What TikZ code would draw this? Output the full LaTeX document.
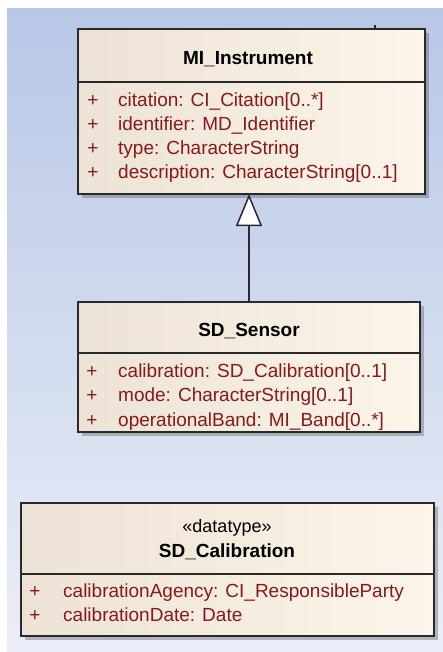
\documentclass[tikz,border=0pt]{standalone}
\usepackage{fontspec}
\setmainfont{Liberation Sans}
\usetikzlibrary{arrows.meta,shadows}
\definecolor{bgtop}{RGB}{184,199,230}
\definecolor{bgbot}{RGB}{234,238,247}
\definecolor{boxl}{RGB}{236,227,214}
\definecolor{boxr}{RGB}{253,245,233}
\definecolor{attr}{RGB}{135,25,25}
\definecolor{edge}{RGB}{40,40,45}
\tikzset{
  classbox/.style={draw=edge, line width=2pt, left color=boxl, right color=boxr,
    anchor=north west, inner sep=0pt, outer sep=0pt,
    drop shadow={shadow xshift=4pt, shadow yshift=-4pt, opacity=0.35, fill=black!70}},
  sepline/.style={draw=edge, line width=2pt},
  title/.style={anchor=base, inner sep=0pt, font=\fontsize{19}{23}\selectfont\bfseries},
  stereo/.style={anchor=base, inner sep=0pt, font=\fontsize{18}{22}\selectfont},
  attrtext/.style={anchor=base west, inner sep=0pt, text=attr, font=\fontsize{19}{23}\selectfont},
  plus/.style={anchor=base, inner sep=0pt, text=attr, font=\fontsize{19}{23}\selectfont},
  gen/.style={draw=edge, line width=1.5pt, -{Triangle[length=32pt,width=26pt,fill=white]}},
}
\begin{document}
\begin{tikzpicture}[x=1pt,y=-1pt]
\fill[white] (0,0) rectangle (443,652);
\useasboundingbox (0,0) rectangle (443,652);
\fill[top color=bgtop, bottom color=bgbot] (7,9) rectangle (443,652);

% MI_Instrument
\node[classbox, minimum width=347pt, minimum height=165pt] (mi) at (78,29) {};
\draw[sepline] (mi.west |- 0,82) coordinate (misepl) -- (mi.east |- 0,82) coordinate (misepr);
\draw[edge, line width=1.5pt] (375,25) coordinate (tick) -- (tick |- mi.north);
\node[title] (mititle) at (248,65) {MI\_Instrument};
\foreach \i/\t in {0/{citation: CI\_Citation[0..*]},1/{identifier: MD\_Identifier},2/{type: CharacterString},3/{description: CharacterString[0..1]}}{
  \node[plus] (mip\i) at (93,107+24*\i) {+};
  \node[attrtext] (mia\i) at (118,107+24*\i) {\t};
}

% SD_Sensor
\node[classbox, minimum width=342pt, minimum height=130pt] (sensor) at (78,302) {};
\draw[sepline] (sensor.west |- 0,353) coordinate (ssepl) -- (sensor.east |- 0,353) coordinate (ssepr);
\node[title] (stitle) at (249,336) {SD\_Sensor};
\foreach \i/\t in {0/{calibration: SD\_Calibration[0..1]},1/{mode: CharacterString[0..1]},2/{operationalBand: MI\_Band[0..*]}}{
  \node[plus] (sp\i) at (92,377+24.5*\i) {+};
  \node[attrtext] (sa\i) at (118,377+24.5*\i) {\t};
}

% generalization
\draw[gen] (sensor.north) -- (sensor.north |- mi.south);

% SD_Calibration
\node[classbox, minimum width=413pt, minimum height=133pt] (cal) at (21,503) {};
\draw[sepline] (cal.west |- 0,574) coordinate (csepl) -- (cal.east |- 0,574) coordinate (csepr);
\node[stereo] (cster) at (227,532) {«datatype»};
\node[title] (ctitle) at (227,557) {SD\_Calibration};
\foreach \i/\t in {0/{calibrationAgency: CI\_ResponsibleParty},1/{calibrationDate: Date}}{
  \node[plus] (cp\i) at (35,597+24*\i) {+};
  \node[attrtext] (ca\i) at (63,597+24*\i) {\t};
}
\end{tikzpicture}
\end{document}
